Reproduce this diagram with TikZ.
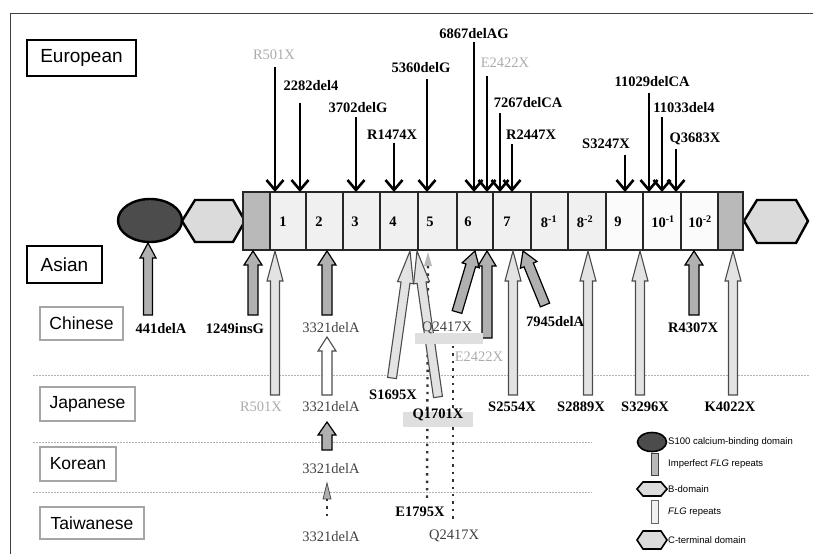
\documentclass[tikz,border=0pt]{standalone}
\usepackage{fontspec}
\setmainfont{Liberation Serif}
\setsansfont{Liberation Sans}
\usetikzlibrary{arrows.meta,calc}
\newcommand{\blkarr}[6]{%
  \coordinate (hb) at ($(#3)!#6!(#2)$);
  \filldraw[#1] ($(#2)!#4!90:(#3)$) -- ($(hb)!#4!90:(#3)$) -- ($(hb)!#5!90:(#3)$) -- (#3) -- ($(hb)!#5!-90:(#3)$) -- ($(hb)!#4!-90:(#3)$) -- ($(#2)!#4!-90:(#3)$) -- cycle;}
\tikzset{
  mut/.style={font=\fontsize{14.5}{16}\selectfont\bfseries, inner sep=0pt},
  mutr/.style={font=\fontsize{14.5}{16}\selectfont, text=black!75, inner sep=0pt},
  mutg/.style={font=\fontsize{14.5}{16}\selectfont, text=gray!65, inner sep=0pt},
  toparr/.style={line width=2.6pt, -{Straight Barb[length=10pt,width=17pt,line width=2.6pt]}},
  darkarr/.style={fill=gray!62, draw=black, line width=1.2pt},
  lightarr/.style={fill=gray!22, draw=black!70, line width=1.1pt},
  whitearr/.style={fill=white, draw=black!70, line width=1.1pt},
  popbox/.style={draw=black, line width=1.4pt, font=\sffamily\fontsize{19}{21}\selectfont, inner sep=0pt},
  subbox/.style={draw=gray!70, line width=1.2pt, font=\sffamily\fontsize{17.5}{19}\selectfont, inner sep=0pt},
  celltxt/.style={font=\fontsize{14.5}{16}\selectfont\bfseries, inner sep=0pt},
  legtxt/.style={font=\sffamily\fontsize{9.5}{11}\selectfont, anchor=west, inner sep=0pt},
  sep/.style={gray!60, line width=0.7pt, dash pattern=on 1.5pt off 1.5pt},
  dotl/.style={line width=2.4pt, dash pattern=on 2.4pt off 5pt, black!80}
}
\begin{document}
\begin{tikzpicture}[x=1pt,y=-1pt]
\useasboundingbox (0,0) rectangle (813,554);
% frame
\draw[gray!50!black, line width=1pt] (10,554) -- (10,13) -- (813,13);
% population boxes
\node[popbox, minimum width=109pt, minimum height=36pt] (eur) at (81.5,58) {European};
\node[popbox, minimum width=75pt, minimum height=37pt] (asi) at (64.5,264.5) {Asian};
\node[subbox, minimum width=83pt, minimum height=33pt] (chi) at (81.5,323.5) {Chinese};
\node[subbox, minimum width=95pt, minimum height=34pt] (jap) at (87.5,404) {Japanese};
\node[subbox, minimum width=76pt, minimum height=34pt] (kor) at (78,464) {Korean};
\node[subbox, minimum width=104pt, minimum height=32pt] (tai) at (92,523) {Taiwanese};
% separators
\draw[sep] (33,375) -- (810,375);
\draw[sep] (33,442) -- (592,442);
\draw[sep] (33,492) -- (592,492);
% protein
\filldraw[fill=black!70, draw=black, line width=2.4pt] (150,220.5) ellipse [x radius=32, y radius=21.5];
\coordinate (s100) at (148,243);
\filldraw[fill=gray!28, draw=black, line width=2.4pt] (182,221) -- (195,200) -- (233,200) -- (245,221) -- (233,242) -- (195,242) -- cycle;
\filldraw[fill=gray!28, draw=black, line width=2.4pt] (744,221) -- (757,200) -- (796,200) -- (808,221) -- (796,243) -- (757,243) -- cycle;
\foreach \a/\b/\c in {243/270/gray!55, 270/306/gray!12, 306/343/gray!12, 343/380/gray!12, 380/418/gray!12, 418/457/gray!12, 457/493/gray!12, 493/531/gray!12, 531/568/gray!12, 568/606/gray!12, 606/643/gray!3, 643/681/gray!3, 681/718/gray!3, 718/743/gray!55}
  \filldraw[fill=\c, draw=black!85, line width=1.1pt] (\a,192) rectangle (\b,250);
\node[celltxt] (c1) at (283,222) {1};
\node[celltxt] (c2) at (319,222) {2};
\node[celltxt] (c3) at (355,222) {3};
\node[celltxt] (c4) at (393,222) {4};
\node[celltxt] (c5) at (430,222) {5};
\node[celltxt] (c6) at (468,222) {6};
\node[celltxt] (c7) at (507,222) {7};
\node[celltxt] (c81) at (549,222) {8\textsuperscript{-1}};
\node[celltxt] (c82) at (585,222) {8\textsuperscript{-2}};
\node[celltxt] (c9) at (618,222) {9};
\node[celltxt] (c101) at (663,222) {10\textsuperscript{-1}};
\node[celltxt] (c102) at (700,222) {10\textsuperscript{-2}};
% European mutations
\node[mutg] (lR501) at (274,55) {R501X};
\node[mut] (l2282) at (311,86) {2282del4};
\node[mut] (l3702) at (358,108) {3702delG};
\node[mut] (lR1474) at (392,135) {R1474X};
\node[mut] (l5360) at (421,68) {5360delG};
\node[mut] (l6867) at (474,34) {6867delAG};
\node[mutg] (lE2422) at (505,63) {E2422X};
\node[mut] (l7267) at (528,103) {7267delCA};
\node[mut] (lR2447) at (531,135) {R2447X};
\node[mut] (lS3247) at (606,144) {S3247X};
\node[mut] (l11029) at (652,82) {11029delCA};
\node[mut] (l11033) at (684,108) {11033del4};
\node[mut] (lQ3683) at (695,139) {Q3683X};
\foreach \n/\x/\y in {1/275/67, 2/300/103, 3/356/117, 4/394/143, 5/427/79, 6/474/42, 7/487/76, 8/500/113, 9/512/144, 10/625/155, 11/649/93, 12/662/117, 13/676/149} {
  \coordinate (ta\n) at (\x,\y);
  \coordinate (tb\n) at (\x,192);
  \draw[toparr] (ta\n) -- (tb\n);
}
% dotted lines
\coordinate (e1795top) at (428,252);
\coordinate (e1795a) at (428,266);
\coordinate (e1795b) at (427,500);
\fill[gray!55] (e1795top) -- (432,266) -- (424,266) -- cycle;
\draw[dotl] (e1795a) -- (e1795b);
\coordinate (q2417a) at (453,346);
\coordinate (q2417b) at (453,519);
\draw[dotl] (q2417a) -- (q2417b);
\coordinate (tw3321top) at (327,483);
\coordinate (tw3321a) at (327,499);
\coordinate (tw3321b) at (327,519);
\filldraw[fill=gray!62, draw=black!70, line width=0.8pt] (tw3321top) -- (331,499) -- (323,499) -- cycle;
\draw[dotl] (tw3321a) -- (tw3321b);
% Asian block arrows
\coordinate (A441) at (148,315);
\blkarr{darkarr}{A441}{s100}{4.5pt}{8pt}{15pt}
\coordinate (A1249) at (253,315); \coordinate (B1249) at (253,251);
\blkarr{darkarr}{A1249}{B1249}{5pt}{9pt}{14pt}
\coordinate (AR501) at (275,395); \coordinate (BR501) at (275,251);
\blkarr{lightarr}{AR501}{BR501}{4.5pt}{8pt}{30pt}
\coordinate (A3321c) at (327,315); \coordinate (B3321c) at (327,251);
\blkarr{darkarr}{A3321c}{B3321c}{5pt}{9pt}{14pt}
\coordinate (A3321j) at (327,395); \coordinate (B3321j) at (327,337);
\blkarr{whitearr}{A3321j}{B3321j}{5pt}{9pt}{14pt}
\coordinate (A3321k) at (327,450); \coordinate (B3321k) at (327,422);
\blkarr{darkarr}{A3321k}{B3321k}{5pt}{9pt}{13pt}
\coordinate (AS1695) at (392,378); \coordinate (BS1695) at (410,251);
\blkarr{lightarr}{AS1695}{BS1695}{4.5pt}{8pt}{32pt}
\coordinate (AQ1701) at (438,397); \coordinate (BQ1701) at (417,251);
\blkarr{lightarr}{AQ1701}{BQ1701}{4.5pt}{8pt}{32pt}
\coordinate (AQ2417) at (457,312); \coordinate (BQ2417) at (475,251);
\blkarr{darkarr}{AQ2417}{BQ2417}{5pt}{9pt}{15pt}
\coordinate (AE2422) at (487,338); \coordinate (BE2422) at (487,251);
\blkarr{darkarr}{AE2422}{BE2422}{5pt}{9pt}{15pt}
\coordinate (AS2554) at (513,395); \coordinate (BS2554) at (513,251);
\blkarr{lightarr}{AS2554}{BS2554}{4.5pt}{8pt}{30pt}
\coordinate (A7945) at (545,305); \coordinate (B7945) at (523,251);
\blkarr{darkarr}{A7945}{B7945}{5pt}{9pt}{15pt}
\coordinate (AS2889) at (588,395); \coordinate (BS2889) at (588,251);
\blkarr{lightarr}{AS2889}{BS2889}{4.5pt}{8pt}{30pt}
\coordinate (AS3296) at (640,395); \coordinate (BS3296) at (640,251);
\blkarr{lightarr}{AS3296}{BS3296}{4.5pt}{8pt}{30pt}
\coordinate (AR4307) at (694,315); \coordinate (BR4307) at (694,251);
\blkarr{darkarr}{AR4307}{BR4307}{5pt}{9pt}{14pt}
\coordinate (AK4022) at (733,395); \coordinate (BK4022) at (733,251);
\blkarr{lightarr}{AK4022}{BK4022}{4.5pt}{8pt}{30pt}
% highlights
\fill[gray!25] (415,333) rectangle (483,344);
\fill[gray!25] (403,412) rectangle (473,427);
% Asian labels
\node[mut] (l441) at (161,329) {441delA};
\node[mut] (l1249) at (235,329) {1249insG};
\node[mutg] (lR501b) at (261,407) {R501X};
\node[mutr] (l3321c) at (331,328) {3321delA};
\node[mutr] (l3321j) at (331,407) {3321delA};
\node[mutr] (l3321k) at (331,469) {3321delA};
\node[mutr] (l3321t) at (331,537) {3321delA};
\node[mut] (lS1695) at (393,395) {S1695X};
\node[mut] (lQ1701) at (438,415) {Q1701X};
\node[mutr] (lQ2417c) at (447,328) {Q2417X};
\node[mutg] (lE2422c) at (479,357) {E2422X};
\node[mut] (lE1795) at (420,512) {E1795X};
\node[mutr] (lQ2417t) at (454,536) {Q2417X};
\node[mut] (lS2554) at (512,407) {S2554X};
\node[mut] (l7945) at (555,322) {7945delA};
\node[mut] (lS2889) at (581,407) {S2889X};
\node[mut] (lS3296) at (645,407) {S3296X};
\node[mut] (lR4307) at (693,328) {R4307X};
\node[mut] (lK4022) at (730,407) {K4022X};
% legend
\filldraw[fill=black!70, draw=black, line width=1.6pt] (652,442) ellipse [x radius=14.5, y radius=9.5];
\node[legtxt] (g1) at (668,442) {S100 calcium-binding domain};
\filldraw[fill=gray!55, draw=black!75, line width=0.8pt] (651,453) rectangle (658,475);
\node[legtxt] (g2) at (668,464) {Imperfect \textit{FLG} repeats};
\filldraw[fill=gray!28, draw=black, line width=1.6pt] (637,489) -- (643,482) -- (661,482) -- (667,489) -- (661,496) -- (643,496) -- cycle;
\node[legtxt] (g3) at (668,489) {B-domain};
\filldraw[fill=gray!12, draw=black!60, line width=0.6pt] (651,500) rectangle (658,523);
\node[legtxt] (g4) at (668,512) {\textit{FLG} repeats};
\filldraw[fill=gray!28, draw=black, line width=1.6pt] (637,540) -- (643,531) -- (661,531) -- (667,540) -- (661,549) -- (643,549) -- cycle;
\node[legtxt] (g5) at (668,540) {C-terminal domain};
\end{tikzpicture}
\end{document}
